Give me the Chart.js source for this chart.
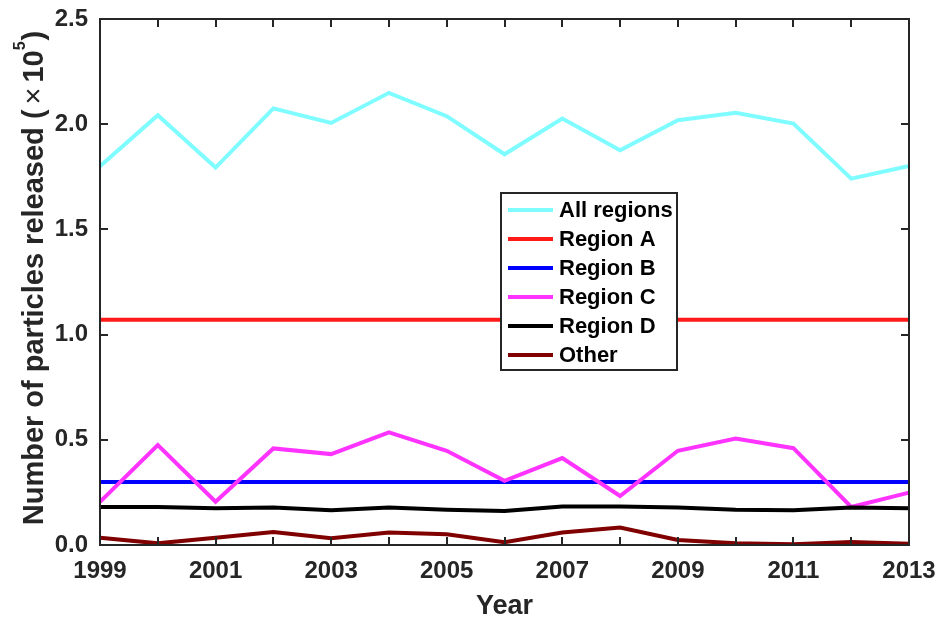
<!DOCTYPE html>
<html>
<head>
<meta charset="utf-8">
<script src="https://cdn.jsdelivr.net/npm/chart.js@4.4.1/dist/chart.umd.min.js"></script>
<style>
  html, body { margin: 0; padding: 0; background: #fff; }
  #wrap { width: 938px; height: 621px; }
</style>
</head>
<body>
<div id="wrap"><canvas id="c" width="938" height="621"></canvas></div>
<script>
// Particles released per year, in units of 1e5
const years = [1999, 2000, 2001, 2002, 2003, 2004, 2005, 2006, 2007, 2008, 2009, 2010, 2011, 2012, 2013];
const allRegions = [1.800, 2.043, 1.794, 2.075, 2.006, 2.149, 2.038, 1.857, 2.027, 1.876, 2.019, 2.054, 2.003, 1.741, 1.801];
const regionA = [1.071, 1.071, 1.071, 1.071, 1.071, 1.071, 1.071, 1.071, 1.071, 1.071, 1.071, 1.071, 1.071, 1.071, 1.071];
const regionB = [0.300, 0.300, 0.300, 0.300, 0.300, 0.300, 0.300, 0.300, 0.300, 0.300, 0.300, 0.300, 0.300, 0.300, 0.300];
const regionC = [0.205, 0.475, 0.206, 0.459, 0.432, 0.535, 0.448, 0.305, 0.413, 0.233, 0.448, 0.506, 0.460, 0.181, 0.249];
const regionD = [0.181, 0.181, 0.175, 0.178, 0.165, 0.178, 0.167, 0.162, 0.183, 0.183, 0.178, 0.168, 0.165, 0.178, 0.175];
const other   = [0.035, 0.008, 0.035, 0.062, 0.032, 0.059, 0.051, 0.013, 0.059, 0.083, 0.024, 0.008, 0.003, 0.014, 0.006];
const yTicks = [0.0, 0.5, 1.0, 1.5, 2.0, 2.5];

const seriesNames = ['All regions', 'Region A', 'Region B', 'Region C', 'Region D', 'Other'];
const seriesColors = ['#7ffcff', '#ff1a1a', '#0000ff', '#ff33ff', '#000000', '#800000'];
const seriesData = [allRegions, regionA, regionB, regionC, regionD, other];

const AXIS = '#262626';
const FONT = 'Arial, "Liberation Sans", Helvetica, sans-serif';
const LINE_W = 4;

// Box frame, inward ticks, axis titles and the legend
const decorations = {
  id: 'decorations',
  afterDraw(chart) {
    const ctx = chart.ctx;
    const a = chart.chartArea;
    const xs = chart.scales.x, ys = chart.scales.y;
    ctx.save();
    ctx.strokeStyle = AXIS;
    ctx.lineWidth = 2;
    // inward ticks on all four sides
    ctx.beginPath();
    years.forEach((yr, i) => {
      const px = Math.round(xs.getPixelForValue(i));
      ctx.moveTo(px, a.bottom); ctx.lineTo(px, a.bottom - 8);
      ctx.moveTo(px, a.top); ctx.lineTo(px, a.top + 8);
    });
    yTicks.forEach(v => {
      const py = Math.round(ys.getPixelForValue(v));
      ctx.moveTo(a.left, py); ctx.lineTo(a.left + 8, py);
      ctx.moveTo(a.right, py); ctx.lineTo(a.right - 8, py);
    });
    ctx.stroke();
    ctx.strokeRect(a.left, a.top, a.right - a.left, a.bottom - a.top);

    // x title
    ctx.fillStyle = AXIS;
    ctx.font = 'bold 27px ' + FONT;
    ctx.textAlign = 'center';
    ctx.textBaseline = 'alphabetic';
    ctx.fillText('Year', (a.left + a.right) / 2, 614);

    // y title with superscript exponent
    ctx.save();
    ctx.translate(43, 278);
    ctx.rotate(-Math.PI / 2);
    const parts = [
      { t: 'Number of particles released (', f: 'bold 29px ' + FONT, dy: 0, gap: 5 },
      { t: '\u00d7', f: '29px ' + FONT, dy: 0, gap: 5 },
      { t: '10', f: 'bold 29px ' + FONT, dy: 0, gap: 0 },
      { t: '5', f: 'bold 16px ' + FONT, dy: -18, gap: 1 },
      { t: ')', f: 'bold 29px ' + FONT, dy: 0, gap: 0 }
    ];
    let total = 0;
    parts.forEach(p => { ctx.font = p.f; p.w = ctx.measureText(p.t).width; total += p.w + p.gap; });
    let x = -total / 2;
    ctx.textAlign = 'left';
    parts.forEach(p => { ctx.font = p.f; ctx.fillText(p.t, x, p.dy); x += p.w + p.gap; });
    ctx.restore();

    // legend
    const lx = 501, ly = 193, lw = 176, lh = 177;
    ctx.fillStyle = '#fff';
    ctx.fillRect(lx, ly, lw, lh);
    ctx.strokeStyle = AXIS;
    ctx.lineWidth = 2;
    ctx.strokeRect(lx, ly, lw, lh);
    ctx.font = 'bold 22px ' + FONT;
    ctx.textAlign = 'left';
    ctx.textBaseline = 'middle';
    chart.data.datasets.forEach((ds, i) => {
      const cy = ly + 17 + i * 29;
      ctx.strokeStyle = ds.borderColor;
      ctx.lineWidth = LINE_W;
      ctx.beginPath();
      ctx.moveTo(lx + 7, cy); ctx.lineTo(lx + 52, cy);
      ctx.stroke();
      ctx.fillStyle = '#000';
      ctx.fillText(ds.label, lx + 58, cy + 1);
    });
    ctx.restore();
  }
};

new Chart(document.getElementById('c'), {
  type: 'line',
  data: {
    labels: years.map(String),
    datasets: seriesNames.map((name, i) => ({
      label: name,
      data: seriesData[i],
      borderColor: seriesColors[i],
      backgroundColor: seriesColors[i],
      borderWidth: LINE_W,
      pointRadius: 0,
      tension: 0,
      fill: false,
      order: seriesNames.length - i
    }))
  },
  options: {
    responsive: false,
    animation: false,
    events: [],
    layout: { padding: { top: 19, right: 29, left: 0, bottom: 0 } },
    plugins: { legend: { display: false }, tooltip: { enabled: false } },
    scales: {
      x: {
        type: 'category',
        offset: false,
        grid: { display: false, drawTicks: false },
        border: { display: false },
        ticks: {
          autoSkip: false,
          maxRotation: 0,
          padding: 12,
          color: AXIS,
          font: { family: FONT, size: 24, weight: 'bold' },
          callback: (v, i) => (i % 2 === 0 ? String(years[i]) : '')
        },
        afterFit: s => { s.height = 76; s.paddingLeft = 0; s.paddingRight = 0; }
      },
      y: {
        min: 0,
        max: 2.5,
        grid: { display: false, drawTicks: false },
        border: { display: false },
        afterBuildTicks: s => { s.ticks = yTicks.map(v => ({ value: v })); },
        ticks: {
          padding: 12,
          color: AXIS,
          font: { family: FONT, size: 24, weight: 'bold' },
          callback: v => Number(v).toFixed(1)
        },
        afterFit: s => { s.width = 100; s.paddingTop = 0; s.paddingBottom = 0; }
      }
    }
  },
  plugins: [decorations]
});
</script>
</body>
</html>
